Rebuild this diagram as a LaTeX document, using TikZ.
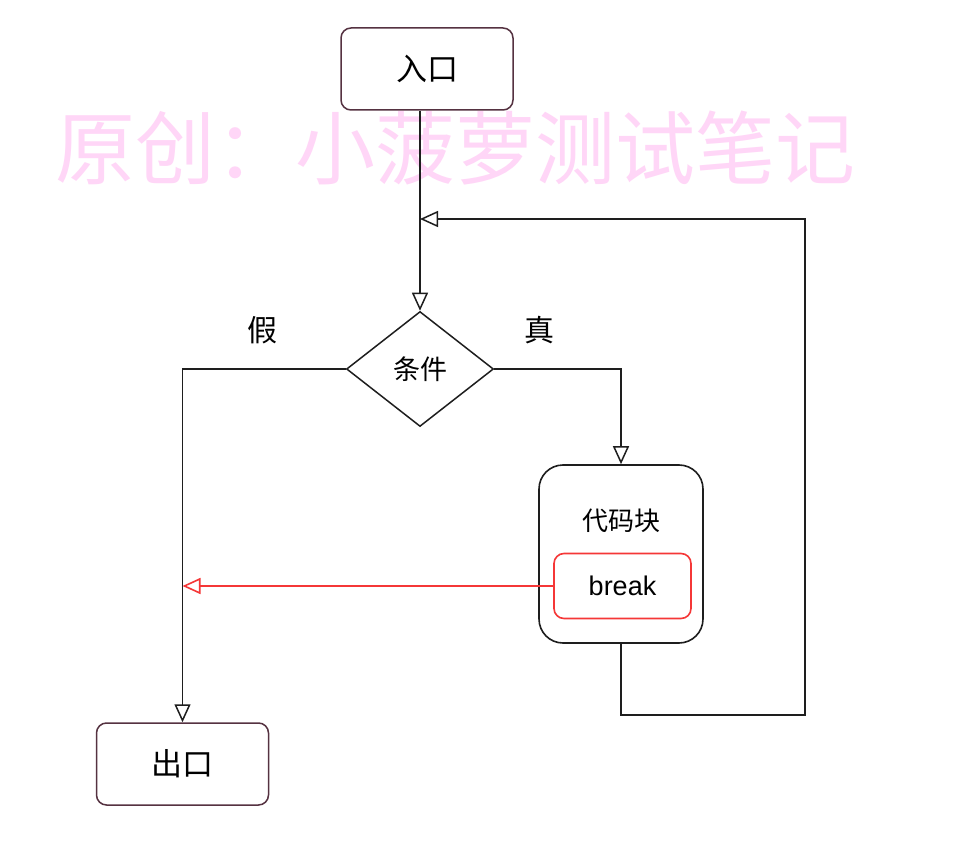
\documentclass[tikz,border=0pt]{standalone}
\usepackage{fontspec}
\setmainfont{Liberation Sans}
\newfontfamily\cjk{Noto Sans CJK SC}
\usetikzlibrary{shapes.geometric,arrows.meta}
\definecolor{wmpink}{RGB}{255,214,247}
\definecolor{termborder}{RGB}{85,50,65}
\definecolor{brkred}{RGB}{245,55,55}
\definecolor{linegray}{RGB}{30,30,30}
\begin{document}
\begin{tikzpicture}[x=1pt,y=-1pt,
  term/.style={draw=termborder, line width=1.5pt, rounded corners=10pt,
    minimum width=172pt, minimum height=82pt, inner sep=0pt,
    font=\cjk\fontsize{31}{36}\selectfont},
  decision/.style={draw=linegray, line width=1.5pt, diamond, aspect=1.28,
    minimum width=147pt, minimum height=115pt, inner sep=0pt,
    font=\cjk\fontsize{27}{32}\selectfont},
  blockbox/.style={draw=linegray, line width=1.6pt, rounded corners=24pt,
    minimum width=164pt, minimum height=178pt, inner sep=0pt},
  brkbox/.style={draw=brkred, line width=1.6pt, rounded corners=10pt,
    minimum width=137pt, minimum height=65pt, inner sep=0pt,
    font=\fontsize{27}{32}\selectfont},
  lbl/.style={font=\cjk\fontsize{30}{34}\selectfont, inner sep=0pt},
  conn/.style={draw=linegray, line width=1.5pt,
    -{Triangle[open,length=18pt,width=16pt]}},
  redconn/.style={draw=brkred, line width=1.6pt,
    -{Triangle[open,length=18pt,width=16pt]}},
  wmark/.style={text=wmpink, font=\cjk\fontsize{80}{82}\selectfont, inner sep=0pt}
]
\useasboundingbox (0,0) rectangle (955,858);
\fill[white] (0,0) rectangle (955,858);

% watermark
\node[wmark] (wm) at (455,148) {原创：小菠萝测试笔记};

% nodes
\node[term] (entry) at (427,69) {入口};
\node[decision] (cond) at (420,369) {条件};
\node[blockbox] (code) at (621,554) {};
\node[lbl, font=\cjk\fontsize{26}{30}\selectfont] (codelbl) at (621,521) {代码块};
\node[brkbox] (brk) at (622.5,586) {break};
\node[term] (exit) at (182.5,764) {出口};

\node[lbl] (lfalse) at (262,330) {假};
\node[lbl] (ltrue) at (539,330) {真};

\coordinate (loopin) at (420,219);
\coordinate (loopcorner) at (805,715);

% connectors
\draw[conn] (entry.south -| cond.north) -- (cond.north);
\draw[conn] (code.south) |- (loopcorner) |- (loopin);
\draw[conn] (cond.west) -| (exit.north);
\draw[conn] (cond.east) -| (code.north);
\draw[redconn] (brk.west) -- (brk.west -| exit.north);
\end{tikzpicture}
\end{document}
